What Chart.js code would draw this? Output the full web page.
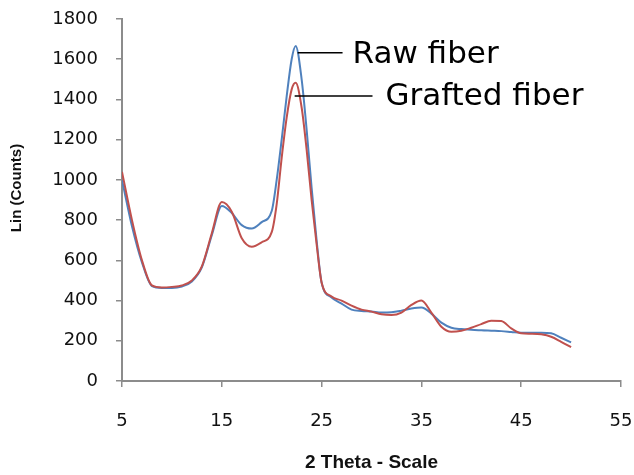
<!DOCTYPE html>
<html>
<head>
<meta charset="utf-8">
<script src="https://cdn.jsdelivr.net/npm/chart.js@4.4.1/dist/chart.umd.min.js"></script>
<style>
  html, body { margin:0; padding:0; background:#fff; }
  #wrap { width:634px; height:475px; position:relative; }
</style>
</head>
<body>
<div id="wrap"><canvas id="xrd"></canvas></div>
<script>
// 2-theta positions (deg) and intensities
const twoTheta = [5, 6, 7, 8, 9, 10, 11, 12, 13, 14, 15, 16, 17, 18, 19, 20, 20.5, 21, 21.5, 22, 22.4, 23, 23.5, 24, 24.5, 25,
                  26, 27, 28, 29, 30, 31, 32, 33, 34, 35, 36, 37, 38, 39, 40, 41, 42, 43, 44, 45, 46, 47, 48, 49, 50];
const rawFiber = [1000, 770, 590, 472, 463, 463, 470, 495, 565, 725, 870, 835, 775, 758, 790, 845, 1000, 1200, 1415, 1600, 1666, 1500, 1250, 960, 700, 490,
                  415, 385, 355, 348, 345, 340, 342, 350, 360, 365, 335, 290, 265, 258, 255, 252, 250, 248, 244, 240, 240, 240, 237, 215, 192];
const graftedFiber = [1040, 800, 600, 475, 465, 468, 475, 500, 570, 735, 890, 842, 710, 668, 690, 740, 880, 1110, 1310, 1450, 1483, 1360, 1150, 900, 680, 490,
                  420, 400, 375, 355, 345, 332, 328, 340, 378, 400, 340, 270, 245, 250, 265, 283, 300, 298, 262, 237, 235, 232, 220, 195, 168];

const xTicks = [5, 15, 25, 35, 45, 55];
const yTicks = [0, 200, 400, 600, 800, 1000, 1200, 1400, 1600, 1800];

// callout labels, anchored in data units
const callouts = [
  { text:'Raw fiber',     from:[22.6, 1632], to:[27.1, 1632], at:[28.1, 1582] },
  { text:'Grafted fiber', from:[22.3, 1417], to:[30.1, 1417], at:[31.4, 1373] }
];

const toPts = ys => ys.map((y,i)=>({x:twoTheta[i], y}));
const AXIS = '#8c8c8c';
const TICKFONT = { family:'DejaVu Sans', size:18 };

const calloutPlugin = {
  id:'callouts',
  afterDatasetsDraw(chart){
    const {ctx, chartArea, scales:{x, y}} = chart;
    ctx.save();
    ctx.strokeStyle = '#000';
    ctx.lineWidth = 1.5;
    ctx.fillStyle = '#000';
    ctx.font = '31px "DejaVu Sans"';
    ctx.textBaseline = 'alphabetic';
    for(const c of callouts){
      ctx.beginPath();
      ctx.moveTo(x.getPixelForValue(c.from[0]), y.getPixelForValue(c.from[1]));
      ctx.lineTo(x.getPixelForValue(c.to[0]), y.getPixelForValue(c.to[1]));
      ctx.stroke();
      ctx.fillText(c.text, x.getPixelForValue(c.at[0]), y.getPixelForValue(c.at[1]));
    }
    // y axis title (sits a little above the plot middle, like the original)
    ctx.fillStyle = '#111';
    ctx.font = 'bold 15px "Liberation Sans"';
    ctx.textAlign = 'center';
    ctx.textBaseline = 'middle';
    ctx.translate(17, (chartArea.top + chartArea.bottom)/2 - 12);
    ctx.rotate(-Math.PI/2);
    ctx.fillText('Lin (Counts)', 0, 0);
    ctx.restore();
  }
};

new Chart(document.getElementById('xrd'), {
  type:'line',
  data:{ datasets:[
    { label:'Raw fiber', data:toPts(rawFiber), borderColor:'#4F81BD', borderWidth:2, pointRadius:0,
      cubicInterpolationMode:'monotone', order:1 },
    { label:'Grafted fiber', data:toPts(graftedFiber), borderColor:'#C0504D', borderWidth:2, pointRadius:0,
      cubicInterpolationMode:'monotone', order:0 }
  ]},
  options:{
    responsive:true,
    maintainAspectRatio:false,
    animation:false,
    layout:{ padding:{ top:19, right:13, left:0, bottom:0 } },
    plugins:{ legend:{ display:false }, tooltip:{ enabled:false } },
    scales:{
      x:{
        type:'linear', min:5, max:55,
        afterBuildTicks: s => { s.ticks = xTicks.map(v=>({value:v})); },
        afterFit: s => { s.height = 94; s.paddingLeft = 0; s.paddingRight = 0; },
        grid:{ drawOnChartArea:false, drawTicks:true, tickLength:6, color:AXIS, lineWidth:1.5 },
        border:{ display:true, color:AXIS, width:2 },
        ticks:{ color:'#111', font:TICKFONT, padding:24, maxRotation:0, callback:v=>String(v) },
        title:{ display:true, text:'2 Theta - Scale', color:'#111',
                font:{ family:'Liberation Sans', size:19, weight:'bold' }, padding:{ bottom:1 } }
      },
      y:{
        type:'linear', min:0, max:1800,
        afterBuildTicks: s => { s.ticks = yTicks.map(v=>({value:v})); },
        afterFit: s => { s.width = 122; s.paddingTop = 0; s.paddingBottom = 0; },
        grid:{ drawOnChartArea:false, drawTicks:true, tickLength:6, color:AXIS, lineWidth:1.5 },
        border:{ display:true, color:AXIS, width:2 },
        ticks:{ color:'#111', font:TICKFONT, padding:18, callback:v=>String(v) }
      }
    }
  },
  plugins:[calloutPlugin]
});
</script>
</body>
</html>
